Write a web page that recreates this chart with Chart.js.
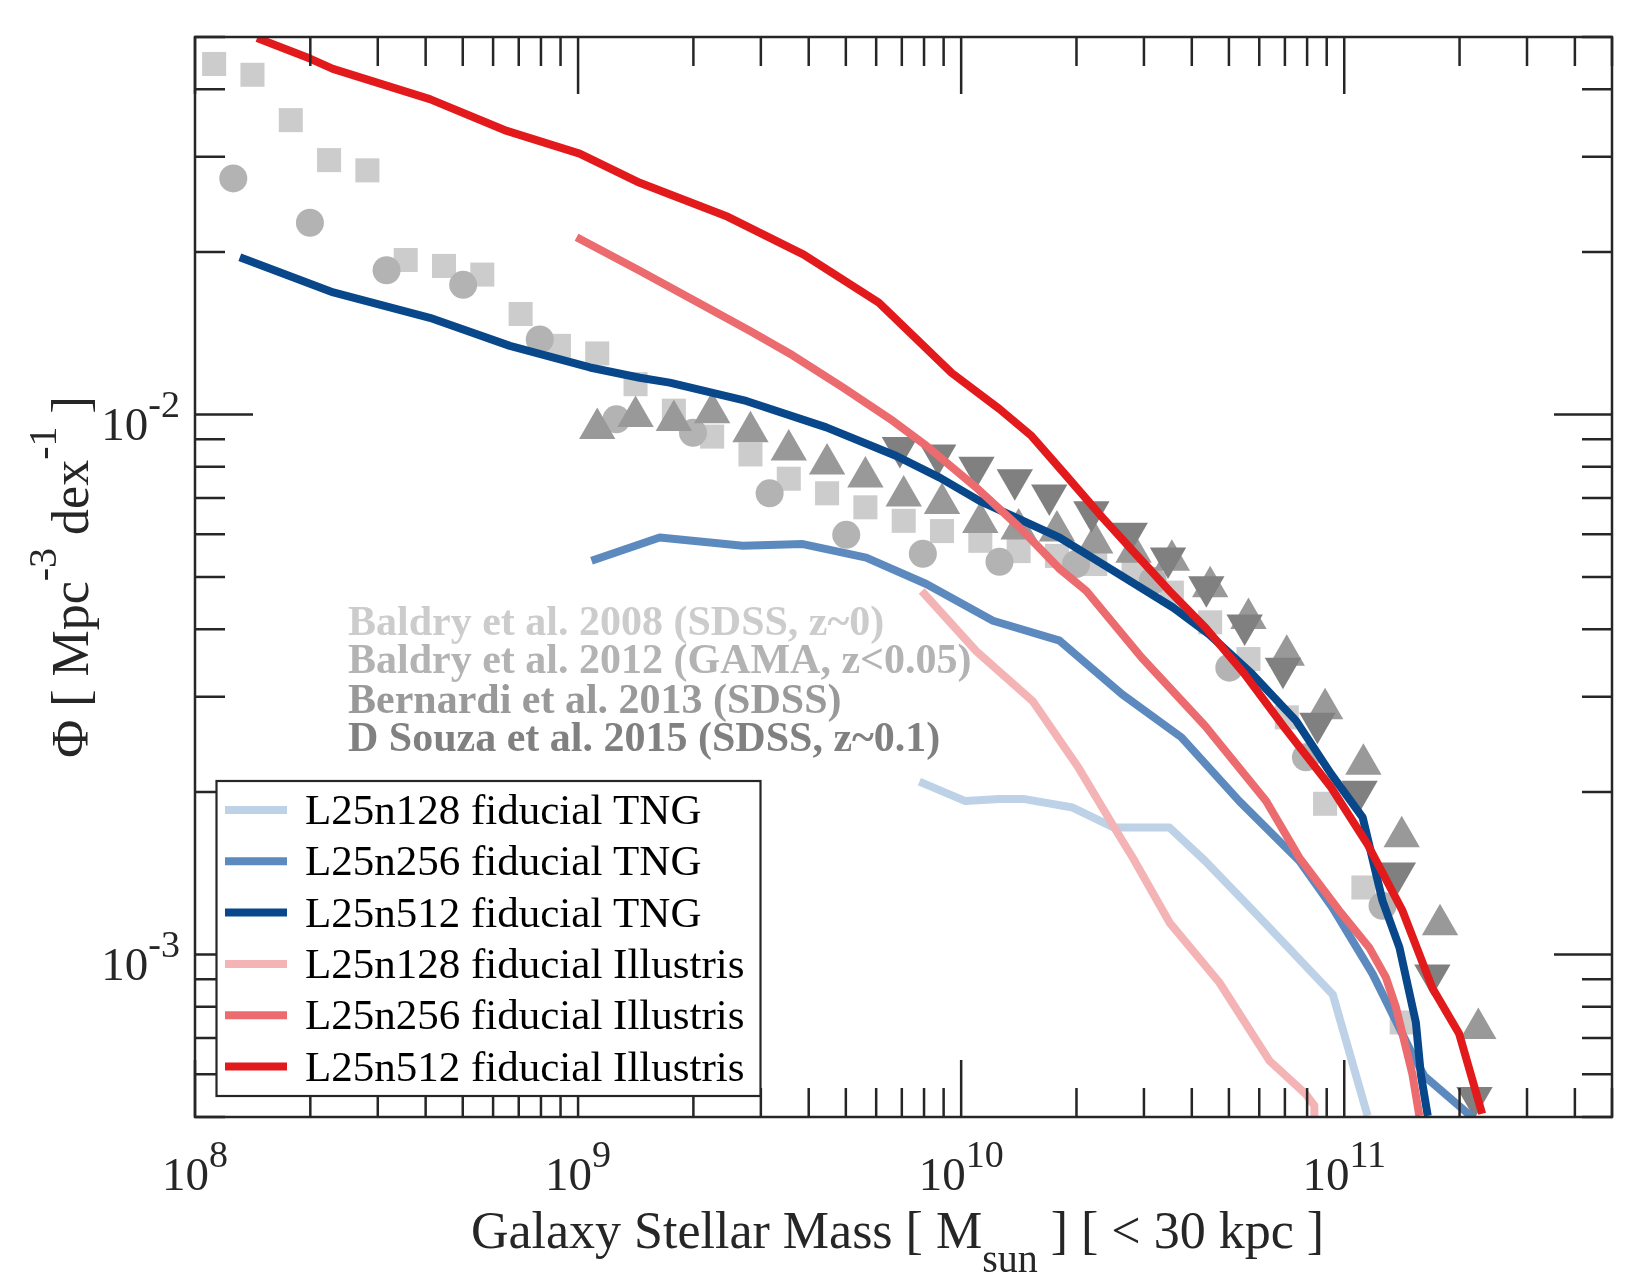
<!DOCTYPE html>
<html>
<head>
<meta charset="utf-8">
<script src="https://cdn.jsdelivr.net/npm/chart.js@4.4.1/dist/chart.umd.min.js"></script>
<style>
  html, body { margin: 0; padding: 0; background: #fff; }
  canvas { display: block; }
</style>
</head>
<body>
<canvas id="smf" width="1650" height="1275"></canvas>
<script>
// all values are log10: stellar mass [Msun] and Phi [Mpc^-3 dex^-1]

// simulations
var tng128M = [9.891, 10.011, 10.100, 10.162, 10.291, 10.399, 10.544, 10.637, 10.739, 10.796, 10.970, 11.061];
var tng128P = [-2.680, -2.716, -2.712, -2.712, -2.728, -2.765, -2.765, -2.827, -2.902, -2.944, -3.074, -3.299];

var tng256M = [9.035, 9.213, 9.430, 9.587, 9.752, 9.909, 10.083, 10.257, 10.420, 10.575, 10.726, 10.883, 10.969, 11.074, 11.178, 11.209, 11.335];
var tng256P = [-2.271, -2.228, -2.243, -2.240, -2.265, -2.314, -2.382, -2.419, -2.518, -2.598, -2.716, -2.827, -2.913, -3.036, -3.185, -3.225, -3.302];

var tng512M = [8.117, 8.361, 8.613, 8.822, 9.031, 9.161, 9.239, 9.439, 9.648, 9.831, 9.944, 10.048, 10.257, 10.399, 10.554, 10.647, 10.760, 10.874, 10.966, 11.048, 11.100, 11.144, 11.187, 11.200, 11.218];
var tng512P = [-1.709, -1.774, -1.821, -1.873, -1.913, -1.932, -1.941, -1.975, -2.024, -2.077, -2.117, -2.160, -2.228, -2.290, -2.358, -2.407, -2.481, -2.567, -2.666, -2.746, -2.901, -2.987, -3.126, -3.222, -3.299];

var ill128M = [9.897, 10.039, 10.187, 10.306, 10.410, 10.448, 10.544, 10.674, 10.805, 10.900, 10.922, 10.922];
var ill128P = [-2.327, -2.438, -2.531, -2.654, -2.777, -2.821, -2.941, -3.052, -3.197, -3.259, -3.280, -3.299];

var ill256M = [8.996, 9.161, 9.448, 9.561, 9.691, 9.822, 9.909, 10.039, 10.152, 10.257, 10.327, 10.471, 10.637, 10.796, 10.883, 10.987, 11.065, 11.109, 11.135, 11.178, 11.196];
var ill256P = [-1.672, -1.734, -1.845, -1.891, -1.950, -2.012, -2.058, -2.135, -2.209, -2.286, -2.327, -2.450, -2.577, -2.716, -2.821, -2.919, -2.987, -3.043, -3.098, -3.222, -3.299];

var ill512M = [8.162, 8.300, 8.360, 8.613, 8.814, 9.004, 9.161, 9.391, 9.589, 9.785, 9.975, 10.100, 10.184, 10.275, 10.369, 10.455, 10.544, 10.638, 10.739, 10.844, 10.966, 11.060, 11.152, 11.230, 11.300, 11.360];
var ill512P = [-1.303, -1.341, -1.360, -1.416, -1.475, -1.517, -1.571, -1.634, -1.704, -1.793, -1.923, -1.990, -2.040, -2.114, -2.191, -2.258, -2.327, -2.395, -2.480, -2.580, -2.691, -2.795, -2.919, -3.062, -3.147, -3.295];

// observations
var baldry08M = [8.05, 8.15, 8.25, 8.35, 8.45, 8.55, 8.65, 8.75, 8.85, 8.95, 9.05, 9.15, 9.25, 9.35, 9.45, 9.55,
                 9.65, 9.75, 9.85, 9.95, 10.05, 10.15, 10.25, 10.35, 10.45, 10.55, 10.65, 10.75, 10.85, 10.95, 11.05, 11.15];
var baldry08P = [-1.351, -1.371, -1.455, -1.529, -1.548, -1.714, -1.725, -1.741, -1.814, -1.873, -1.887, -1.944, -1.993, -2.041, -2.074, -2.119,
                 -2.146, -2.172, -2.197, -2.216, -2.234, -2.253, -2.262, -2.277, -2.286, -2.330, -2.385, -2.453, -2.561, -2.721, -2.876, -3.126];

var baldry12M = [8.1, 8.3, 8.5, 8.7, 8.9, 9.1, 9.3, 9.5, 9.7, 9.9, 10.1, 10.3, 10.5, 10.7, 10.9, 11.1];
var baldry12P = [-1.563, -1.645, -1.733, -1.760, -1.861, -2.009, -2.034, -2.146, -2.223, -2.258, -2.273, -2.277, -2.308, -2.469, -2.635, -2.910];

var bernardiM = [9.05, 9.15, 9.25, 9.35, 9.45, 9.55, 9.65, 9.75, 9.85, 9.95, 10.05, 10.15, 10.25, 10.35, 10.45, 10.55,
                 10.65, 10.75, 10.85, 10.95, 11.05, 11.15, 11.25, 11.35];
var bernardiP = [-2.026, -2.004, -2.011, -1.997, -2.032, -2.066, -2.092, -2.116, -2.151, -2.165, -2.200, -2.212, -2.216, -2.238, -2.255, -2.270,
                 -2.319, -2.378, -2.446, -2.545, -2.648, -2.782, -2.945, -3.137];

var dsouzaM = [9.84, 9.94, 10.04, 10.14, 10.23, 10.34, 10.44, 10.54, 10.64, 10.74, 10.84, 10.93, 11.04, 11.14, 11.23, 11.34];
var dsouzaP = [-2.061, -2.075, -2.098, -2.121, -2.149, -2.180, -2.220, -2.266, -2.319, -2.390, -2.470, -2.572, -2.698, -2.849, -3.038, -3.265];

var simLabels = ['L25n128 fiducial TNG', 'L25n256 fiducial TNG', 'L25n512 fiducial TNG',
                 'L25n128 fiducial Illustris', 'L25n256 fiducial Illustris', 'L25n512 fiducial Illustris'];
var simColors = ['#bdd1e7', '#5d8abe', '#08488a', '#f4b4b5', '#eb6b6e', '#e31a1c'];
var obsLabels = ['Baldry et al. 2008 (SDSS, z~0)', 'Baldry et al. 2012 (GAMA, z<0.05)',
                 'Bernardi et al. 2013 (SDSS)', 'D Souza et al. 2015 (SDSS, z~0.1)'];
var obsColors = ['#cccccc', '#b3b3b3', '#999999', '#808080'];

var xTickExps = [8, 9, 10, 11];
var yTickExps = [-3, -2];

var SERIF = '"Liberation Serif", "Times New Roman", serif';

function pts(ms, ps) {
  return ms.map(function(m, i) { return { x: Math.pow(10, m), y: Math.pow(10, ps[i]) }; });
}

function simSet(i, ms, ps) {
  return {
    label: simLabels[i], data: pts(ms, ps), showLine: true,
    borderColor: simColors[i], backgroundColor: simColors[i], borderWidth: 8,
    borderJoinStyle: 'round', pointRadius: 0, tension: 0, fill: false
  };
}

function obsSet(i, ms, ps, style, r, rot) {
  return {
    label: obsLabels[i], data: pts(ms, ps), showLine: false,
    backgroundColor: obsColors[i], borderColor: obsColors[i], pointBorderWidth: 0,
    pointStyle: style, pointRadius: r, pointRotation: rot || 0
  };
}

// bottom to top
var sets = [
  obsSet(0, baldry08M, baldry08P, 'rect', 17),
  obsSet(1, baldry12M, baldry12P, 'circle', 14),
  obsSet(2, bernardiM, bernardiP, 'triangle', 21),
  obsSet(3, dsouzaM, dsouzaP, 'triangle', 21, 180),
  simSet(0, tng128M, tng128P),
  simSet(1, tng256M, tng256P),
  simSet(2, tng512M, tng512P),
  simSet(3, ill128M, ill128P),
  simSet(4, ill256M, ill256P),
  simSet(5, ill512M, ill512P)
];
sets.forEach(function(d, i) { d.order = sets.length - 1 - i; });

function drawPower(ctx, x, y, exp, align) {
  ctx.font = '47px ' + SERIF;
  var w1 = ctx.measureText('10').width;
  ctx.font = '38px ' + SERIF;
  var w2 = ctx.measureText(exp).width;
  var x0 = align === 'center' ? x - (w1 + w2) / 2 : x - (w1 + w2);
  ctx.textAlign = 'left';
  ctx.textBaseline = 'alphabetic';
  ctx.font = '47px ' + SERIF;
  ctx.fillText('10', x0, y);
  ctx.font = '38px ' + SERIF;
  ctx.fillText(exp, x0 + w1, y - 23);
}

function drawRich(ctx, parts, x, y) {
  var total = 0;
  parts.forEach(function(p) {
    ctx.font = p.s + 'px ' + SERIF;
    p.w = ctx.measureText(p.t).width;
    total += p.w;
  });
  var cx = x - total / 2;
  ctx.textAlign = 'left';
  ctx.textBaseline = 'alphabetic';
  parts.forEach(function(p) {
    ctx.font = p.s + 'px ' + SERIF;
    ctx.fillText(p.t, cx, y + p.dy);
    cx += p.w;
  });
}

var framePlugin = {
  id: 'frame',
  afterDraw: function(chart) {
    var ctx = chart.ctx, a = chart.chartArea;
    var xs = chart.scales.x, ys = chart.scales.y;
    ctx.save();

    // frame and inward ticks on all four sides
    ctx.strokeStyle = '#262626';
    ctx.lineWidth = 2.5;
    ctx.strokeRect(a.left, a.top, a.right - a.left, a.bottom - a.top);
    ctx.beginPath();
    for (var d = 8; d <= 11; d++) {
      for (var k = 1; k <= 9; k++) {
        var v = k * Math.pow(10, d);
        if (v > xs.max) break;
        var px = xs.getPixelForValue(v);
        var len = k === 1 ? 57 : 29;
        ctx.moveTo(px, a.bottom); ctx.lineTo(px, a.bottom - len);
        ctx.moveTo(px, a.top); ctx.lineTo(px, a.top + len);
      }
    }
    for (var e = -4; e <= -2; e++) {
      for (var j = 1; j <= 9; j++) {
        var w = j * Math.pow(10, e);
        if (w < ys.min * 0.999 || w > ys.max * 1.001) continue;
        var py = ys.getPixelForValue(w);
        var ln = j === 1 ? 58 : 30;
        ctx.moveTo(a.left, py); ctx.lineTo(a.left + ln, py);
        ctx.moveTo(a.right, py); ctx.lineTo(a.right - ln, py);
      }
    }
    ctx.stroke();

    // tick labels
    ctx.fillStyle = '#262626';
    xTickExps.forEach(function(n) {
      drawPower(ctx, xs.getPixelForValue(Math.pow(10, n)), a.bottom + 73, String(n), 'center');
    });
    yTickExps.forEach(function(n) {
      drawPower(ctx, a.left - 15, ys.getPixelForValue(Math.pow(10, n)) + 26, String(n), 'right');
    });

    // axis titles
    drawRich(ctx, [
      { t: 'Galaxy Stellar Mass [ M', s: 52, dy: 0 },
      { t: 'sun', s: 40, dy: 24 },
      { t: ' ] [ < 30 kpc ]', s: 52, dy: 0 }
    ], (a.left + a.right) / 2 - 6, 1248);

    ctx.save();
    ctx.translate(88, (a.top + a.bottom) / 2);
    ctx.rotate(-Math.PI / 2);
    drawRich(ctx, [
      { t: '\u03A6 [ Mpc', s: 52, dy: 0 },
      { t: '-3', s: 40, dy: -32 },
      { t: ' dex', s: 52, dy: 0 },
      { t: '-1', s: 40, dy: -32 },
      { t: ' ]', s: 52, dy: 0 }
    ], 0, 0);
    ctx.restore();

    // observation labels
    ctx.font = 'bold 42px ' + SERIF;
    ctx.textAlign = 'left';
    ctx.textBaseline = 'alphabetic';
    var obsY = [635, 673, 713, 751];
    obsLabels.forEach(function(t, i) {
      ctx.fillStyle = obsColors[i];
      ctx.fillText(t, 348, obsY[i]);
    });

    // legend box
    var bx = 216.5, by = 781, bw = 544, bh = 315;
    ctx.fillStyle = '#ffffff';
    ctx.fillRect(bx, by, bw, bh);
    ctx.strokeStyle = '#262626';
    ctx.lineWidth = 2.2;
    ctx.strokeRect(bx, by, bw, bh);
    ctx.font = '43px ' + SERIF;
    simLabels.forEach(function(t, i) {
      var ly = 810 + i * 51.3;
      ctx.strokeStyle = simColors[i];
      ctx.lineWidth = 8;
      ctx.beginPath();
      ctx.moveTo(225, ly);
      ctx.lineTo(287, ly);
      ctx.stroke();
      ctx.fillStyle = '#000000';
      ctx.fillText(t, 305, ly + 14);
    });

    ctx.restore();
  }
};

new Chart(document.getElementById('smf'), {
  type: 'scatter',
  data: { datasets: sets },
  options: {
    responsive: false,
    devicePixelRatio: 1,
    animation: false,
    layout: { padding: { left: 195, top: 37, right: 38, bottom: 158 } },
    plugins: { legend: { display: false }, tooltip: { enabled: false } },
    scales: {
      x: { type: 'logarithmic', min: 1e8, max: 5e11, display: false },
      y: { type: 'logarithmic', min: 5e-4, max: 5e-2, display: false }
    }
  },
  plugins: [framePlugin]
});
</script>
</body>
</html>
